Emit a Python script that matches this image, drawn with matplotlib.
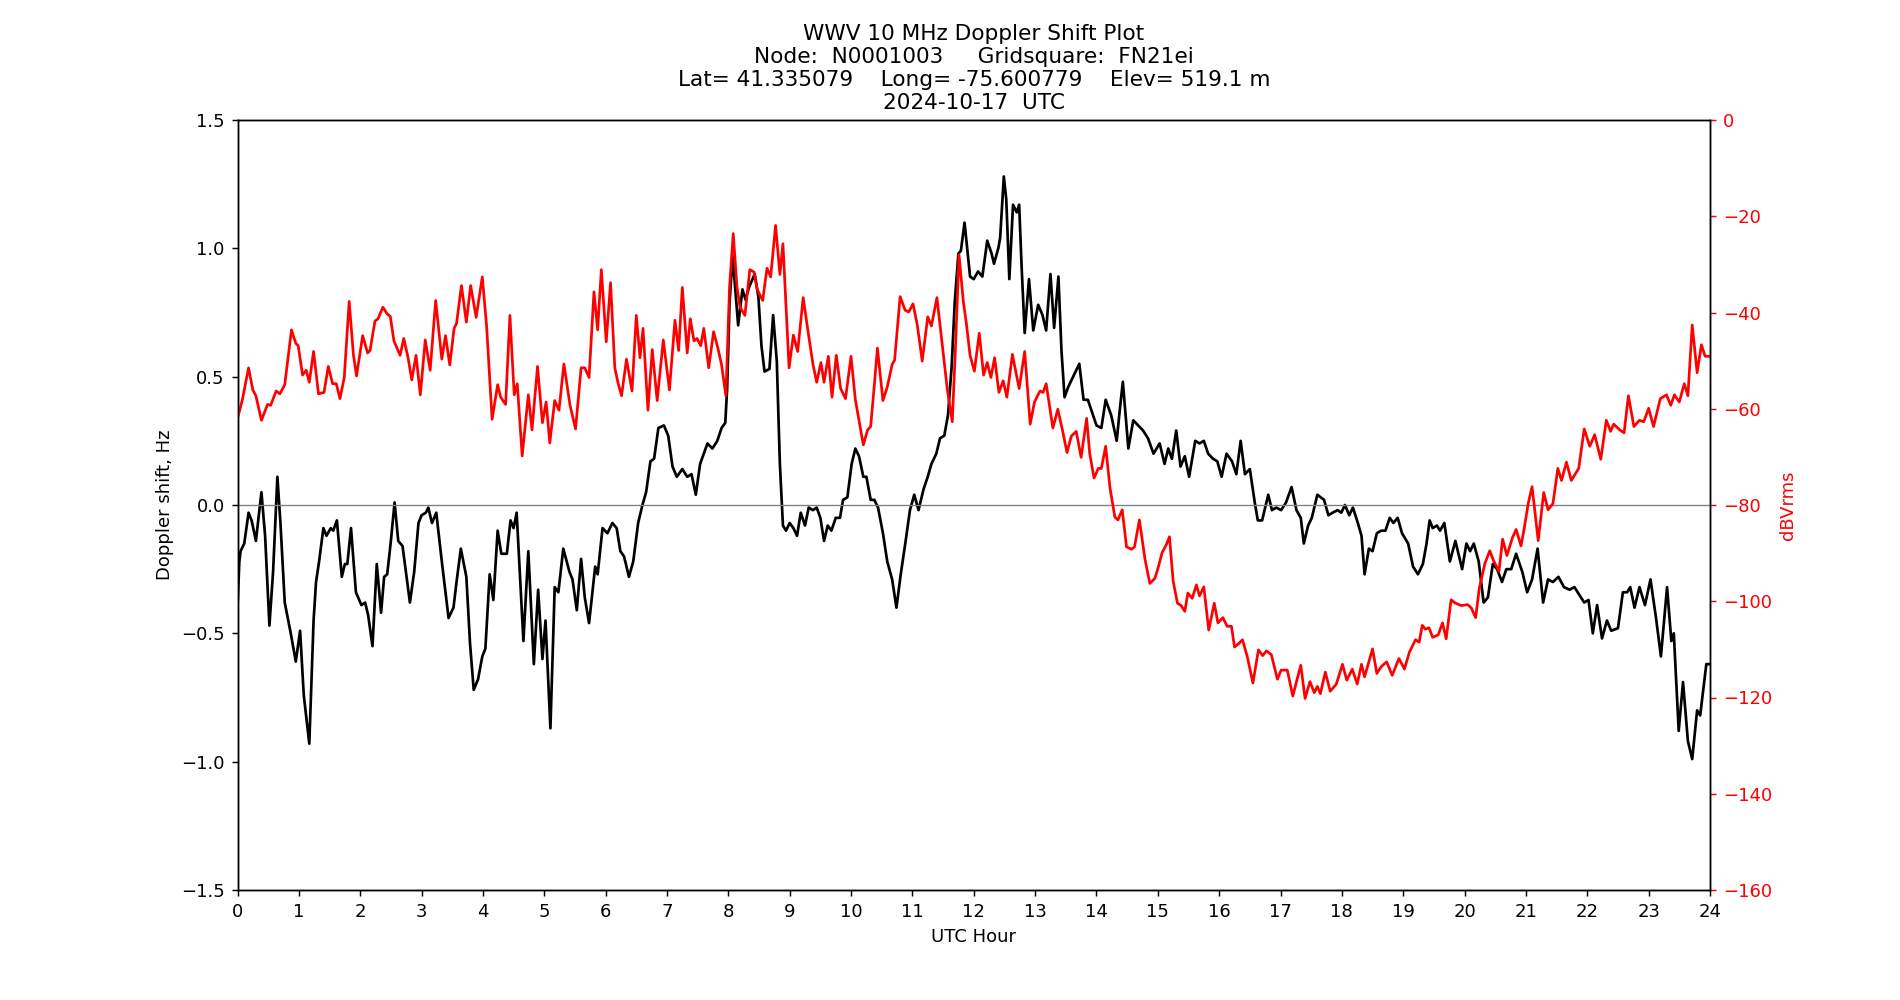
import matplotlib
matplotlib.use("Agg")
import matplotlib.pyplot as plt

# Doppler shift (Hz) vs UTC hour
dop_h = [0.00, 0.03, 0.05, 0.11, 0.18, 0.23, 0.30, 0.39, 0.45, 0.52, 0.58, 0.65, 0.70, 0.77, 0.86, 0.95,
         1.02, 1.08, 1.17, 1.24, 1.28, 1.33, 1.40, 1.45, 1.52, 1.56, 1.62, 1.70, 1.75, 1.79, 1.85, 1.93,
         2.02, 2.08, 2.13, 2.20, 2.27, 2.34, 2.39, 2.44, 2.50, 2.56, 2.62, 2.69, 2.75, 2.81, 2.88, 2.95,
         3.00, 3.07, 3.11, 3.17, 3.24, 3.33, 3.44, 3.52, 3.57, 3.64, 3.73, 3.79, 3.85, 3.92, 3.99,
         4.04, 4.11, 4.17, 4.24, 4.30, 4.39, 4.45, 4.50, 4.55, 4.66, 4.74, 4.83, 4.90, 4.97,
         5.02, 5.10, 5.17, 5.23, 5.31, 5.41, 5.46, 5.53, 5.60, 5.66, 5.73, 5.83, 5.87, 5.95,
         6.03, 6.11, 6.18, 6.24, 6.30, 6.38, 6.45, 6.53, 6.60, 6.66, 6.73, 6.79, 6.86, 6.95,
         7.02, 7.09, 7.16, 7.25, 7.33, 7.40, 7.47, 7.54, 7.60, 7.66, 7.74, 7.82, 7.89, 7.95, 7.98,
         8.02, 8.07, 8.11, 8.16, 8.23, 8.28, 8.34, 8.43, 8.49, 8.54, 8.59, 8.67, 8.73, 8.79, 8.84, 8.89, 8.94,
         9.00, 9.06, 9.12, 9.18, 9.25, 9.31, 9.38, 9.44, 9.50, 9.56, 9.62, 9.68, 9.75, 9.82, 9.87, 9.94,
         10.01, 10.07, 10.13, 10.20, 10.25, 10.32, 10.38, 10.44, 10.52, 10.59, 10.67, 10.74, 10.81, 10.89, 10.96,
         11.03, 11.10, 11.18, 11.25, 11.31, 11.39, 11.45, 11.52, 11.58, 11.64, 11.69, 11.75, 11.79, 11.85, 11.94,
         12.00, 12.07, 12.14, 12.22, 12.29, 12.33, 12.40, 12.43, 12.49, 12.53, 12.58, 12.64, 12.70, 12.74, 12.78,
         12.83, 12.90, 12.97, 13.05, 13.12, 13.18, 13.25, 13.31, 13.38, 13.43, 13.48, 13.54, 13.62, 13.72,
         13.79, 13.86, 13.93, 14.00, 14.08, 14.15, 14.24, 14.33, 14.38, 14.43, 14.52, 14.60, 14.68, 14.76,
         14.84, 14.93, 15.03, 15.11, 15.17, 15.23, 15.30, 15.37, 15.44, 15.51, 15.61, 15.68, 15.75, 15.82,
         15.90, 15.97, 16.04, 16.12, 16.21, 16.28, 16.35, 16.42, 16.50, 16.58, 16.63, 16.70, 16.80, 16.86,
         16.93, 17.01, 17.09, 17.18, 17.26, 17.33, 17.38, 17.45, 17.51, 17.60, 17.71, 17.78, 17.85, 17.93,
         17.99, 18.05, 18.12, 18.18, 18.26, 18.32, 18.37, 18.44, 18.50, 18.57, 18.64, 18.71, 18.78, 18.84,
         18.91, 18.98, 19.08, 19.16, 19.24, 19.32, 19.38, 19.43, 19.48, 19.55, 19.60, 19.67, 19.76, 19.85,
         19.96, 20.03, 20.09, 20.15, 20.23, 20.31, 20.38, 20.46, 20.53, 20.61, 20.68, 20.76, 20.84, 20.94,
         21.02, 21.10, 21.19, 21.28, 21.36, 21.44, 21.53, 21.62, 21.71, 21.79, 21.87, 21.95, 22.02, 22.09,
         22.16, 22.24, 22.32, 22.39, 22.50, 22.58, 22.65, 22.70, 22.77, 22.85, 22.94, 23.03, 23.12, 23.20,
         23.30, 23.37, 23.41, 23.49, 23.56, 23.64, 23.71, 23.79, 23.84, 23.94, 24.00]
dop_v = [-0.40, -0.22, -0.18, -0.15, -0.03, -0.06, -0.14, 0.05, -0.12, -0.47, -0.26, 0.11, -0.07, -0.38, -0.49, -0.61,
         -0.49, -0.74, -0.93, -0.45, -0.30, -0.22, -0.09, -0.12, -0.09, -0.10, -0.06, -0.28, -0.23, -0.23, -0.09, -0.34,
         -0.39, -0.38, -0.43, -0.55, -0.23, -0.42, -0.28, -0.27, -0.14, 0.01, -0.14, -0.16, -0.27, -0.38, -0.26, -0.07,
         -0.04, -0.03, -0.01, -0.07, -0.03, -0.22, -0.44, -0.40, -0.30, -0.17, -0.28, -0.54, -0.72, -0.68, -0.59,
         -0.56, -0.27, -0.37, -0.10, -0.19, -0.19, -0.06, -0.09, -0.03, -0.53, -0.18, -0.62, -0.33, -0.60,
         -0.45, -0.87, -0.32, -0.34, -0.17, -0.26, -0.29, -0.41, -0.21, -0.36, -0.46, -0.24, -0.27, -0.09,
         -0.11, -0.07, -0.09, -0.18, -0.20, -0.28, -0.22, -0.07, 0.00, 0.05, 0.17, 0.18, 0.30, 0.31,
         0.27, 0.15, 0.11, 0.14, 0.11, 0.12, 0.04, 0.16, 0.20, 0.24, 0.22, 0.25, 0.30, 0.32, 0.45,
         0.79, 0.97, 0.85, 0.70, 0.84, 0.80, 0.85, 0.90, 0.81, 0.62, 0.52, 0.53, 0.74, 0.56, 0.16, -0.08, -0.10,
         -0.07, -0.09, -0.12, -0.03, -0.08, -0.01, -0.02, -0.01, -0.05, -0.14, -0.08, -0.10, -0.05, -0.05, 0.02, 0.03,
         0.16, 0.22, 0.19, 0.11, 0.11, 0.02, 0.02, -0.01, -0.11, -0.22, -0.29, -0.40, -0.27, -0.14, -0.02,
         0.04, -0.02, 0.06, 0.11, 0.16, 0.20, 0.26, 0.27, 0.35, 0.54, 0.79, 0.98, 0.99, 1.10, 0.89,
         0.88, 0.91, 0.89, 1.03, 0.98, 0.94, 1.00, 1.04, 1.28, 1.19, 0.88, 1.17, 1.14, 1.17, 0.93,
         0.67, 0.88, 0.68, 0.78, 0.74, 0.68, 0.90, 0.69, 0.89, 0.60, 0.42, 0.46, 0.50, 0.55,
         0.41, 0.41, 0.36, 0.31, 0.30, 0.41, 0.35, 0.25, 0.37, 0.48, 0.22, 0.33, 0.31, 0.29,
         0.26, 0.20, 0.24, 0.16, 0.22, 0.18, 0.29, 0.15, 0.19, 0.11, 0.25, 0.24, 0.25, 0.20,
         0.18, 0.17, 0.11, 0.20, 0.17, 0.12, 0.25, 0.12, 0.14, 0.01, -0.06, -0.06, 0.04, -0.02,
         -0.01, -0.02, 0.01, 0.07, -0.02, -0.05, -0.15, -0.08, -0.05, 0.04, 0.02, -0.04, -0.03, -0.02,
         -0.03, 0.00, -0.04, -0.01, -0.07, -0.12, -0.27, -0.17, -0.18, -0.11, -0.10, -0.10, -0.05, -0.07,
         -0.05, -0.11, -0.15, -0.24, -0.27, -0.23, -0.15, -0.06, -0.09, -0.08, -0.10, -0.07, -0.22, -0.14,
         -0.25, -0.15, -0.18, -0.15, -0.22, -0.38, -0.36, -0.23, -0.25, -0.30, -0.25, -0.25, -0.19, -0.26,
         -0.34, -0.29, -0.17, -0.38, -0.29, -0.30, -0.28, -0.32, -0.33, -0.32, -0.35, -0.38, -0.37, -0.50,
         -0.39, -0.52, -0.45, -0.49, -0.48, -0.34, -0.34, -0.32, -0.40, -0.32, -0.39, -0.29, -0.44, -0.59,
         -0.32, -0.53, -0.50, -0.88, -0.69, -0.92, -0.99, -0.80, -0.82, -0.62, -0.62]

# signal level (dBVrms) vs UTC hour
pwr_h = [0.00, 0.08, 0.18, 0.25, 0.30, 0.39, 0.49, 0.54, 0.63, 0.69, 0.77, 0.88, 0.95, 0.99,
         1.06, 1.12, 1.17, 1.24, 1.32, 1.41, 1.48, 1.55, 1.61, 1.67, 1.74, 1.82, 1.89, 1.94,
         2.04, 2.12, 2.16, 2.24, 2.29, 2.37, 2.44, 2.49, 2.55, 2.65, 2.71, 2.78, 2.84, 2.91, 2.98,
         3.06, 3.14, 3.23, 3.33, 3.39, 3.46, 3.53, 3.57, 3.65, 3.73, 3.80, 3.89, 3.99,
         4.06, 4.15, 4.24, 4.29, 4.37, 4.44, 4.51, 4.56, 4.64, 4.74, 4.80, 4.89, 4.97,
         5.03, 5.09, 5.17, 5.24, 5.32, 5.42, 5.51, 5.60, 5.66, 5.73, 5.81, 5.87, 5.93,
         6.01, 6.08, 6.15, 6.20, 6.26, 6.34, 6.43, 6.50, 6.56, 6.61, 6.69, 6.76, 6.84, 6.94,
         7.04, 7.13, 7.19, 7.25, 7.33, 7.38, 7.44, 7.49, 7.55, 7.60, 7.68, 7.76, 7.83, 7.89, 7.96,
         8.02, 8.08, 8.14, 8.19, 8.27, 8.35, 8.42, 8.47, 8.56, 8.63, 8.69, 8.77, 8.84, 8.89, 8.99,
         9.06, 9.13, 9.22, 9.30, 9.38, 9.44, 9.51, 9.56, 9.63, 9.69, 9.76, 9.83, 9.91,
         10.00, 10.07, 10.14, 10.20, 10.27, 10.32, 10.38, 10.43, 10.52, 10.59, 10.67, 10.71, 10.80, 10.88, 10.94,
         11.01, 11.08, 11.16, 11.25, 11.31, 11.40, 11.47, 11.57, 11.65, 11.70, 11.76, 11.83, 11.88, 11.94,
         12.01, 12.09, 12.16, 12.22, 12.28, 12.34, 12.41, 12.48, 12.54, 12.63, 12.74, 12.83, 12.92, 12.99,
         13.08, 13.13, 13.18, 13.29, 13.37, 13.45, 13.52, 13.59, 13.67, 13.75, 13.84, 13.89, 13.96,
         14.03, 14.08, 14.15, 14.22, 14.30, 14.35, 14.42, 14.49, 14.57, 14.62, 14.70, 14.79, 14.87, 14.95,
         15.00, 15.07, 15.14, 15.19, 15.25, 15.32, 15.38, 15.44, 15.49, 15.56, 15.63, 15.68, 15.75, 15.83, 15.92, 15.98,
         16.06, 16.13, 16.20, 16.25, 16.32, 16.38, 16.46, 16.55, 16.64, 16.71, 16.77, 16.85, 16.95,
         17.01, 17.11, 17.20, 17.33, 17.40, 17.48, 17.55, 17.60, 17.65, 17.73, 17.81, 17.91,
         18.01, 18.08, 18.17, 18.25, 18.32, 18.37, 18.50, 18.57, 18.64, 18.73, 18.82, 18.93,
         19.02, 19.10, 19.20, 19.26, 19.31, 19.36, 19.42, 19.48, 19.57, 19.64, 19.70, 19.78, 19.85, 19.95,
         20.05, 20.11, 20.18, 20.24, 20.33, 20.41, 20.47, 20.56, 20.62, 20.69, 20.78, 20.84, 20.92, 20.97,
         21.04, 21.10, 21.20, 21.29, 21.36, 21.44, 21.52, 21.58, 21.66, 21.74, 21.86, 21.95,
         22.04, 22.12, 22.22, 22.31, 22.38, 22.43, 22.53, 22.60, 22.67, 22.76, 22.85, 22.92,
         23.00, 23.08, 23.19, 23.29, 23.36, 23.42, 23.50, 23.58, 23.64, 23.71, 23.79, 23.86, 23.92, 24.00]
pwr_v = [-62.0, -58.1, -51.5, -56.1, -57.3, -62.4, -59.1, -59.3, -56.3, -56.9, -55.0, -43.6, -46.4, -46.9,
         -53.0, -52.0, -54.5, -48.1, -56.9, -56.6, -51.2, -54.8, -54.8, -57.9, -53.5, -37.7, -48.9, -53.2,
         -44.8, -48.4, -47.9, -41.8, -41.3, -38.9, -40.3, -40.8, -45.9, -48.9, -45.4, -49.4, -54.0, -48.9, -57.1,
         -45.7, -52.0, -37.5, -49.7, -44.8, -50.9, -43.3, -42.3, -34.4, -42.0, -34.4, -41.0, -32.6,
         -42.8, -62.2, -55.0, -57.6, -59.1, -40.6, -57.1, -54.8, -69.8, -57.1, -64.4, -51.2, -62.9,
         -58.6, -67.1, -58.3, -60.3, -50.7, -59.3, -64.2, -51.5, -51.5, -53.5, -35.7, -43.6, -31.1,
         -46.1, -33.8, -51.5, -54.5, -57.3, -49.7, -56.3, -40.6, -49.4, -43.3, -60.3, -47.7, -58.3, -45.7,
         -56.1, -41.6, -47.9, -34.8, -48.4, -41.3, -45.9, -45.4, -46.9, -43.3, -51.5, -44.0, -47.4, -50.9, -57.3,
         -34.6, -23.6, -34.6, -38.9, -40.6, -31.1, -31.6, -35.2, -37.5, -30.8, -32.6, -21.9, -32.1, -25.7, -51.5,
         -44.7, -48.1, -36.9, -44.0, -50.8, -54.5, -50.4, -54.5, -49.1, -57.6, -48.9, -55.8, -57.9,
         -49.1, -58.1, -63.2, -67.5, -64.4, -63.7, -55.0, -47.4, -58.3, -55.5, -50.8, -49.9, -36.7, -39.5, -39.9,
         -38.2, -42.6, -50.1, -40.9, -42.8, -36.9, -44.8, -56.1, -62.7, -47.9, -28.0, -37.7, -42.3, -48.9,
         -52.2, -44.3, -53.0, -50.4, -53.5, -49.4, -56.6, -54.2, -57.6, -48.7, -55.8, -48.1, -63.2, -58.6,
         -56.3, -56.6, -54.8, -64.0, -60.1, -64.7, -69.1, -65.7, -64.7, -70.1, -62.0, -69.3, -74.4,
         -72.4, -72.4, -67.8, -76.4, -82.5, -83.1, -81.0, -88.7, -89.2, -88.7, -83.1, -91.2, -96.3, -95.3,
         -93.3, -89.9, -88.2, -86.6, -95.8, -100.4, -100.9, -102.1, -98.3, -99.4, -96.6, -98.9, -97.0, -106.0, -100.4, -104.5,
         -103.4, -105.2, -105.2, -109.5, -108.8, -108.0, -111.6, -117.0, -110.1, -111.3, -110.3, -111.1, -116.2,
         -114.3, -114.3, -119.7, -113.3, -120.2, -116.7, -119.0, -117.7, -119.2, -114.7, -118.7, -117.2,
         -113.1, -116.4, -114.1, -117.2, -113.1, -115.7, -109.9, -115.0, -113.6, -112.6, -115.4, -111.9,
         -114.1, -110.6, -108.0, -108.5, -105.0, -105.8, -105.5, -107.5, -107.0, -104.5, -107.8, -99.7, -100.4, -100.9,
         -100.7, -101.4, -103.4, -97.3, -92.2, -89.5, -91.5, -93.8, -87.1, -90.5, -86.8, -85.1, -88.5, -85.0,
         -79.5, -76.2, -87.4, -77.4, -81.0, -79.7, -72.4, -74.9, -71.1, -74.9, -72.4, -64.2,
         -67.8, -65.4, -70.5, -62.4, -64.7, -63.2, -64.4, -65.0, -57.3, -63.7, -62.4, -62.7,
         -59.9, -63.7, -57.9, -57.1, -59.3, -57.1, -58.6, -54.8, -57.3, -42.6, -52.5, -46.7, -49.1, -49.1]

title = ("WWV 10 MHz Doppler Shift Plot\n"
         "Node:  N0001003     Gridsquare:  FN21ei\n"
         "Lat= 41.335079    Long= -75.600779    Elev= 519.1 m\n"
         "2024-10-17  UTC")

# default styling, just rendered at a higher dpi
fig, ax = plt.subplots(figsize=(1900 / 130, 1000 / 130))

ax.plot(dop_h, dop_v, color='black')
ax.axhline(0, color='gray', linewidth=0.75)
ax.set_xlim(0, 24)
ax.set_ylim(-1.5, 1.5)
ax.set_xticks(range(0, 25))
ax.set_xlabel("UTC Hour")
ax.set_ylabel("Doppler shift, Hz")
ax.set_title(title)

ax2 = ax.twinx()
ax2.plot(pwr_h, pwr_v, color='red')
ax2.set_ylim(-160, 0)
ax2.set_ylabel("dBVrms", color='red')
ax2.tick_params(axis='y', colors='red')

plt.savefig("out.png", dpi=130)
